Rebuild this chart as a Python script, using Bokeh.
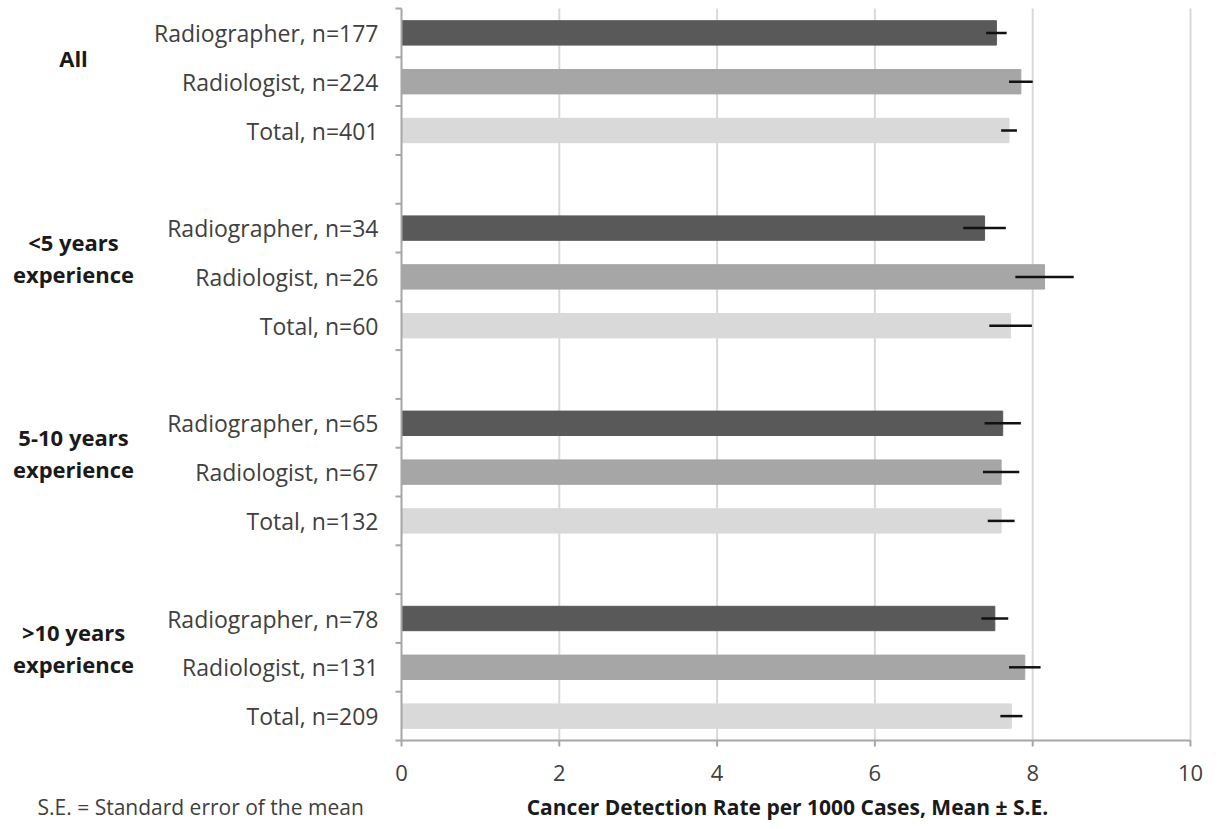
from bokeh.plotting import figure
from bokeh.models import Range1d, ColumnDataSource
from bokeh.core.properties import value
from bokeh.embed import file_html
from bokeh.resources import INLINE

# ---------------- data ----------------
groups = ["All", "<5 years experience", "5-10 years experience", ">10 years experience"]
group_lines = [["All"], ["<5 years", "experience"], ["5-10 years", "experience"], [">10 years", "experience"]]
roles = ["Radiographer", "Radiologist", "Total"]
n_values = [[177, 224, 401], [34, 26, 60], [65, 67, 132], [78, 131, 209]]
means = [[7.54, 7.85, 7.70], [7.39, 8.15, 7.72], [7.62, 7.60, 7.60], [7.52, 7.90, 7.73]]
std_err = [[0.13, 0.15, 0.10], [0.27, 0.37, 0.27], [0.23, 0.23, 0.17], [0.17, 0.20, 0.14]]
x_ticks = [0, 2, 4, 6, 8, 10]
x_title = "Cancer Detection Rate per 1000 Cases, Mean \u00b1 S.E."
footnote = "S.E. = Standard error of the mean"

role_colors = ["#595959", "#a6a6a6", "#d9d9d9"]
FONT = "Open Sans"
AXIS_COLOR = "#a6a6a6"
GRID_COLOR = "#d9d9d9"

# ---------------- layout (canvas pixels) ----------------
W, H = 1211, 821
plot_left, plot_right = 401, 1190
plot_top, plot_bottom = 8, 740
n_slots = 4 * len(groups) - 1
px_x = (plot_right - plot_left) / (x_ticks[-1] - x_ticks[0])
px_y = (plot_bottom - plot_top) / n_slots


def dx(px):  # canvas px -> data x
    return (px - plot_left) / px_x


def dy(py):  # canvas px (from top) -> data y (slots)
    return (py - plot_top) / px_y


p = figure(width=W, height=H, output_backend="svg", toolbar_location=None,
           x_range=Range1d(dx(0), dx(W)), y_range=Range1d(dy(H), dy(0)),
           x_axis_location=None, y_axis_location=None, min_border=0)
p.outline_line_color = None
p.background_fill_color = "white"
p.border_fill_color = "white"
p.xgrid.visible = False
p.ygrid.visible = False

# ---------- rows ----------
ys, xs, errs, cols, labels = [], [], [], [], []
for g in range(len(groups)):
    for r in range(3):
        slot = 4 * g + r
        ys.append(slot + 0.5)
        xs.append(means[g][r])
        errs.append(std_err[g][r])
        cols.append(role_colors[r])
        labels.append(f"{roles[r]}, n={n_values[g][r]}")

src = ColumnDataSource(dict(
    y=ys, x=xs, c=cols, lab=labels,
    lo=[m - e for m, e in zip(xs, errs)],
    hi=[m + e for m, e in zip(xs, errs)],
))

# ---------- gridlines ----------
grid_x = [t for t in x_ticks if t != x_ticks[0]]
p.segment(x0=grid_x, x1=grid_x, y0=[0] * len(grid_x), y1=[n_slots] * len(grid_x),
          line_color=GRID_COLOR, line_width=2)

# ---------- bars & error bars ----------
p.hbar(y="y", left=0, right="x", height=0.5, fill_color="c", line_color="c", source=src)
p.segment(x0="lo", x1="hi", y0="y", y1="y", line_color="#111111", line_width=2.5, source=src)

# ---------- category axis (left) ----------
tick_len = 6
bounds = list(range(n_slots + 1))
p.segment(x0=[0], x1=[0], y0=[0], y1=[n_slots], line_color=AXIS_COLOR, line_width=2)
p.segment(x0=[0] * len(bounds), x1=[-tick_len / px_x] * len(bounds), y0=bounds, y1=bounds,
          line_color=AXIS_COLOR, line_width=2)
p.text(x=dx(378), y="y", text="lab", source=src, text_align="right", text_baseline="middle",
       text_font=value(FONT), text_font_size="23px", text_color="#404040")

# ---------- value axis (bottom) ----------
p.segment(x0=[x_ticks[0]], x1=[x_ticks[-1]], y0=[n_slots], y1=[n_slots],
          line_color=AXIS_COLOR, line_width=2)
p.segment(x0=x_ticks, x1=x_ticks, y0=[n_slots] * len(x_ticks),
          y1=[n_slots + tick_len / px_y] * len(x_ticks), line_color=AXIS_COLOR, line_width=2)
p.text(x=x_ticks, y=[dy(772)] * len(x_ticks), text=[str(t) for t in x_ticks],
       text_align="center", text_baseline="middle", text_font=value(FONT),
       text_font_size="22px", text_color="#404040")
p.text(x=[dx(787)], y=[dy(806)], text=[x_title], text_align="center", text_baseline="middle",
       text_font=value(FONT), text_font_style="bold", text_font_size="21px", text_color="#1a1a1a")

# ---------- group labels ----------
gl_x, gl_y, gl_t = [], [], []
for g, lines in enumerate(group_lines):
    base = 4 * g + 1
    offs = [0.02] if len(lines) == 1 else [-0.22, 0.44]
    for t, o in zip(lines, offs):
        gl_x.append(dx(73))
        gl_y.append(base + o)
        gl_t.append(t)
p.text(x=gl_x, y=gl_y, text=gl_t, text_align="center", text_baseline="middle",
       text_font=value(FONT), text_font_style="bold", text_font_size="22px", text_color="#1a1a1a")

# ---------- footnote ----------
p.text(x=[dx(37)], y=[dy(806)], text=[footnote], text_align="left", text_baseline="middle",
       text_font=value(FONT), text_font_size="21px", text_color="#404040")

open("out.html", "w").write(file_html(p, INLINE))
